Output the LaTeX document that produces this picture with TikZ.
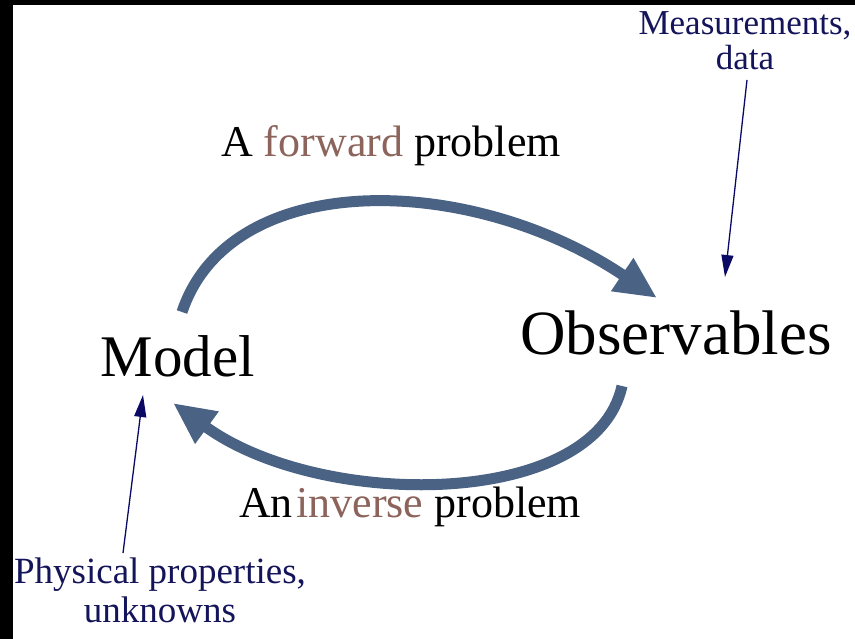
\documentclass[tikz,border=0pt]{standalone}
\usepackage{fontspec}
\setmainfont{Liberation Serif}
\usetikzlibrary{arrows.meta}
\definecolor{arcblue}{RGB}{74,99,133}
\definecolor{navytext}{RGB}{20,20,90}
\definecolor{navyline}{RGB}{10,10,100}
\definecolor{brownish}{RGB}{140,100,92}
\begin{document}
\begin{tikzpicture}[x=1pt,y=-1pt,
  bigarc/.style={draw=arcblue, line width=11pt, line cap=butt,
    -{Triangle[width=37pt,length=42pt]}},
  thinarrow/.style={draw=navyline, line width=1.3pt,
    -{Triangle[width=12pt,length=22pt]}},
  mainlabel/.style={inner sep=0pt, anchor=base, text=black},
  problabel/.style={inner sep=0pt, anchor=base, text=black,
    font=\fontsize{44}{48}\selectfont},
  notelabel/.style={inner sep=0pt, anchor=base, text=navytext, align=center}]
\useasboundingbox (0,0) rectangle (855,639);
\fill[white] (0,0) rectangle (855,639);
\fill[black] (0,0) rectangle (855,5);
\fill[black] (0,0) rectangle (13,639);

\node[mainlabel, font=\fontsize{59}{62}\selectfont] (model) at (178,377) {Model};
\node[mainlabel, font=\fontsize{63}{66}\selectfont] (obs) at (676,355) {Observables};
\node[problabel] (fwd) at (391,157) {A {\color{brownish}forward} problem};
\node[problabel] (inv) at (410,517) {An\hspace{0.08em}{\color{brownish}inverse} problem};
\node[notelabel, font=\fontsize{35}{35}\selectfont] (meas) at (745,70) {Measurements,\\data};
\node[notelabel, font=\fontsize{37}{39}\selectfont] (phys) at (160,622) {Physical properties,\\unknowns};

\coordinate (fwdS) at (182,312);
\coordinate (fwdE) at (657,298);
\coordinate (invS) at (622,386);
\coordinate (invE) at (173,403);
\coordinate (measS) at (747,80);
\coordinate (measE) at (725,277);
\coordinate (physS) at (123,553);
\coordinate (physE) at (143,395);

\draw[bigarc] (fwdS) .. controls (230,168) and (470,172) .. (fwdE);
\draw[bigarc] (invS) .. controls (595,510) and (320,510) .. (invE);
\draw[thinarrow] (measS) -- (measE);
\draw[thinarrow] (physS) -- (physE);
\end{tikzpicture}
\end{document}
